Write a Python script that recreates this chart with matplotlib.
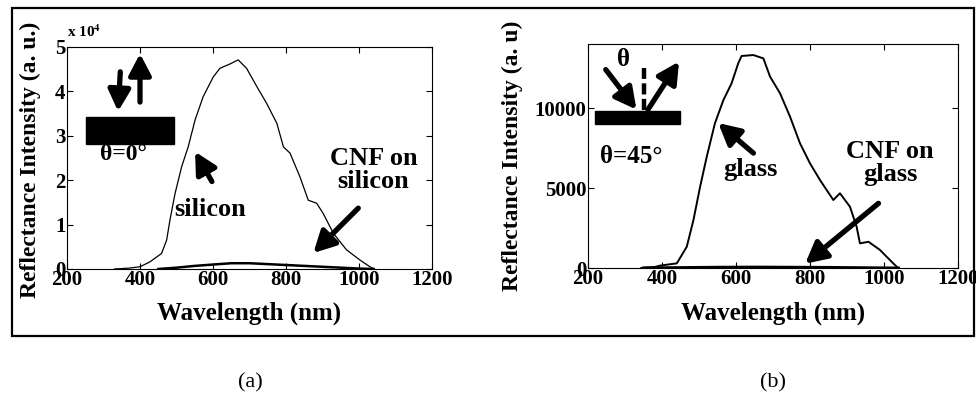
import numpy as np
import matplotlib
matplotlib.use('Agg')
import matplotlib.pyplot as plt
from matplotlib.patches import Rectangle

plt.rcParams['font.family'] = ['Liberation Serif', 'DejaVu Serif']
plt.rcParams['font.weight'] = 'bold'
plt.rcParams['mathtext.fontset'] = 'stix'

# 反射光谱数据 (a) 硅片, 单位 x10^4
wl_si = [330, 370, 400, 427, 459, 473, 482, 496, 514, 532, 551, 573, 601, 619, 647, 669,
         692, 720, 747, 775, 793, 811, 838, 861, 884, 902, 930, 966, 1003, 1030, 1042]
si = [0.0, 0.02, 0.05, 0.16, 0.35, 0.65, 1.10, 1.70, 2.30, 2.75, 3.36, 3.88, 4.33, 4.52, 4.62, 4.71,
      4.52, 4.11, 3.73, 3.28, 2.75, 2.61, 2.08, 1.55, 1.48, 1.25, 0.80, 0.43, 0.20, 0.05, 0.0]
wl_cnf_si = [450, 500, 550, 600, 650, 700, 750, 800, 850, 900, 950, 1000, 1040]
cnf_si = [0.0, 0.03, 0.07, 0.1, 0.13, 0.13, 0.11, 0.09, 0.07, 0.05, 0.03, 0.01, 0.0]

# (b) 玻璃
wl_gl = [344, 380, 395, 440, 467, 485, 503, 521, 543, 566, 588, 606, 615, 647, 674, 692, 719,
         746, 773, 800, 827, 863, 881, 908, 926, 935, 958, 989, 1025, 1038]
gl = [0, 60, 150, 290, 1330, 3000, 5080, 6960, 9040, 10500, 11540, 12790, 13250, 13310, 13100,
      11960, 10920, 9460, 7790, 6540, 5500, 4250, 4670, 3830, 2580, 1540, 1640, 1130, 290, 0]
wl_cnf_gl = [350, 450, 550, 650, 750, 850, 950, 1040]
cnf_gl = [20, 40, 60, 70, 60, 50, 30, 10]

xticks = [200, 400, 600, 800, 1000, 1200]

fig = plt.figure(figsize=(9.76, 4.11), dpi=100)
W, H = 976, 411


def box(l, t, r, b):
    return [l / W, 1 - b / H, (r - l) / W, (b - t) / H]


def style(ax):
    ax.tick_params(direction='in', top=True, right=True, labelsize=15, length=4, pad=1)
    for lab in ax.get_xticklabels() + ax.get_yticklabels():
        lab.set_fontweight('bold')
    ax.set_xlim(200, 1200)
    ax.set_xticks(xticks)


def arrow(ax, x0, y0, x1, y1):
    ax.annotate('', xy=(x1, y1), xytext=(x0, y0),
                arrowprops=dict(arrowstyle='-|>,head_width=0.42,head_length=0.8',
                                mutation_scale=16, lw=3.8, color='black',
                                shrinkA=0, shrinkB=0))


# 外框
fig.patches.append(Rectangle((12 / W, 1 - 336 / H), 962 / W, 328 / H, transform=fig.transFigure,
                             fill=False, lw=1.6, ec='black'))

# ---- (a) ----
ax1 = fig.add_axes(box(67, 47, 432, 269))
ax1.plot(wl_si, np.array(si) * 1e4, color='black', lw=0.9)
ax1.plot(wl_cnf_si, np.array(cnf_si) * 1e4, color='black', lw=1.8)
ax1.set_ylim(0, 5e4)
ax1.set_yticks([0, 1e4, 2e4, 3e4, 4e4, 5e4])
ax1.set_yticklabels(['0', '1', '2', '3', '4', '5'])
style(ax1)
ax1.text(0.0, 1.03, r'x 10$^4$', transform=ax1.transAxes, fontsize=11, fontweight='bold',
         ha='left', va='bottom')
ax1.set_xlabel('Wavelength (nm)', fontsize=18, fontweight='bold', va='top')
ax1.xaxis.set_label_coords(0.5, -0.148)
ax1.set_ylabel('Reflectance Intensity (a. u.)', fontsize=17, fontweight='bold', va='center')
ax1.yaxis.set_label_coords(-0.101, 0.49)

# 入射/反射示意 (垂直入射)
ax1.add_patch(Rectangle((253, 2.81e4), 239, 0.62e4, color='black', zorder=3))
arrow(ax1, 346, 4.44e4, 340, 3.55e4)
arrow(ax1, 400, 3.76e4, 400, 4.85e4)
ax1.text(355, 2.57e4, 'θ=0°', fontsize=17, fontweight='bold', ha='center', va='center')
ax1.text(592, 1.33e4, 'silicon', fontsize=19, fontweight='bold', ha='center', va='center')
arrow(ax1, 597, 1.97e4, 551, 2.64e4)
ax1.text(1040, 2.23e4, 'CNF on\nsilicon', fontsize=19, fontweight='bold', ha='center',
         va='center', linespacing=1.0)
arrow(ax1, 998, 1.37e4, 875, 0.36e4)

# ---- (b) ----
ax2 = fig.add_axes(box(588, 44, 958, 268))
ax2.plot(wl_gl, gl, color='black', lw=1.4)
ax2.plot(wl_cnf_gl, cnf_gl, color='black', lw=1.8)
ax2.set_ylim(0, 14000)
ax2.set_yticks([0, 5000, 10000])
style(ax2)
ax2.set_xlabel('Wavelength (nm)', fontsize=18, fontweight='bold', va='top')
ax2.xaxis.set_label_coords(0.5, -0.152)
ax2.set_ylabel('Reflectance Intensity (a. u)', fontsize=17, fontweight='bold', va='center')
ax2.yaxis.set_label_coords(-0.203, 0.5)

# 45度入射示意
ax2.add_patch(Rectangle((218, 9000), 230, 830, color='black', zorder=3))
arrow(ax2, 248, 12400, 331, 9900)
arrow(ax2, 362, 9900, 446, 12900)
ax2.plot([350, 350], [9900, 12500], color='black', lw=3.2, ls=(0, (2.5, 1)))
ax2.text(295, 13030, 'θ', fontsize=18, fontweight='bold', ha='center', va='center')
ax2.text(317, 6970, 'θ=45°', fontsize=18, fontweight='bold', ha='center', va='center')
ax2.text(638, 6130, 'glass', fontsize=19, fontweight='bold', ha='center', va='center')
arrow(ax2, 647, 7180, 552, 9060)
ax2.text(1017, 6550, 'CNF on\nglass', fontsize=19, fontweight='bold', ha='center',
         va='center', linespacing=1.0)
arrow(ax2, 985, 4040, 787, 270)

fig.text(250 / W, 1 - 383 / H, '(a)', fontsize=16, ha='center', va='center', fontweight='normal')
fig.text(773 / W, 1 - 383 / H, '(b)', fontsize=16, ha='center', va='center', fontweight='normal')

fig.savefig('out.png', dpi=100)
